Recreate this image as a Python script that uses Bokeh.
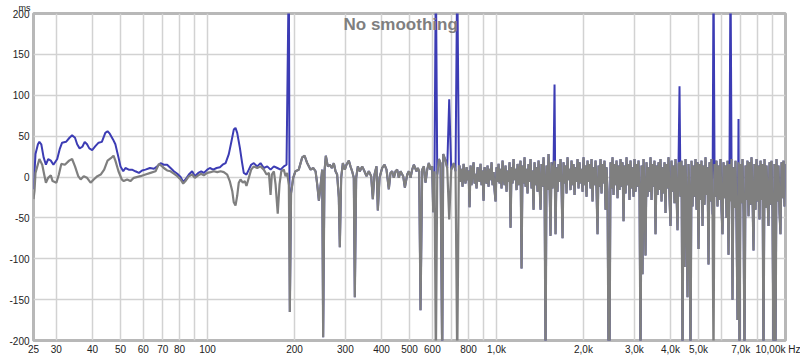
import numpy as np
from bokeh.plotting import figure
from bokeh.models import Range1d, FixedTicker, Label, Title
from bokeh.embed import file_html
from bokeh.resources import INLINE

# ---------------- data ----------------
x_ticks = [25, 30, 40, 50, 60, 70, 80, 90, 100, 200, 300, 400, 500, 600, 700, 800, 900,
           1000, 2000, 3000, 4000, 5000, 6000, 7000, 8000, 9000, 10000]
x_tick_labels = ["25", "30", "40", "50", "60", "70", "80", "", "100", "200", "300", "400", "500",
                 "600", "", "800", "", "1,0k", "2,0k", "3,0k", "4,0k", "5,0k", "", "7,0k", "", "", ""]
last_label = "10,00k Hz"
last_label_anchor = 9535  # label of the last tick is pulled left so it fits the window
y_ticks = [-200, -150, -100, -50, 0, 50, 100, 150, 200]

# blue trace, low-frequency part (Hz, ms)
blue_lf_freq = [25.0, 25.4, 25.9, 26.2, 26.6, 27.1, 27.6, 28.1, 28.7, 29.3, 30.2, 30.8, 31.4, 32.4,
                33.3, 34.0, 34.8, 35.4, 36.1, 36.9, 37.6, 38.3, 39.0, 39.9, 41.0, 42.0, 43.1, 44.3,
                45.1, 45.9, 47.1, 48.0, 49.2, 50.0, 51.1, 52.0, 53.4, 54.8, 56.3, 57.9, 59.4, 61.0,
                63.2, 65.3, 67.0, 68.8, 70.6, 72.5, 74.5, 76.5, 78.6, 80.7, 82.4, 83.9, 86.2, 88.5,
                90.4, 92.9, 95.1, 97.1, 99.8, 101.9, 104.7, 107.5, 110.4, 112.8, 115.5, 118.5, 121.1,
                123.3, 125.0, 126.7, 129.4, 131.8, 133.5, 136.4, 139.0, 141.6, 144.6, 148.6, 152.6,
                156.6, 161.0, 165.3, 169.7, 174.4, 179.0, 183.7, 187.7]
blue_lf_ms = [-15, 28, 40, 43, 40, 24, 15, 22, 20, 15, 22, 34, 42, 43,
              48, 51, 48, 40, 35, 37, 43, 40, 35, 33, 38, 42, 43, 54,
              56, 53, 46, 40, 24, 13, 7, 11, 9, 9, 7, 5, 8, 9,
              11, 10, 13, 17, 15, 15, 11, 7, 4, 0, -6, -3, 3, 7,
              1, 5, 7, 5, 9, 11, 9, 11, 12, 15, 17, 28, 44,
              58, 60, 54, 36, 17, 5, 3, 9, 15, 17, 13, 17,
              11, 13, 9, 13, 11, 9, 13, 15]

# blue spikes above the gray trace (Hz, ms)
blue_spike_freq = [191.5, 615, 688, 733, 1588, 4298, 5635, 6452, 6891]
blue_spike_ms = [260, 260, 95, 260, 113, 111, 260, 260, 71]

# gray trace, hand-read part (Hz, ms)
gray_lf_freq = [25.0, 25.2, 25.4, 26.2, 26.8, 27.3, 27.6, 28.1, 28.7, 29.1, 30.0, 30.6, 31.2, 32.1,
                33.2, 34.0, 34.8, 35.7, 36.4, 37.3, 38.3, 39.4, 40.4, 41.6, 42.7, 43.9, 45.1, 46.3,
                47.3, 48.0, 49.2, 50.5, 51.3, 52.7, 54.1, 55.6, 58.6, 61.0, 63.5, 66.1, 67.9, 69.7,
                70.6, 72.5, 74.5, 76.5, 78.6, 80.7, 82.4, 83.9, 86.2, 88.5, 90.4, 92.9, 95.1, 97.1,
                99.8, 102.5, 105.2, 108.1, 111.0, 113.9, 117.0, 119.4, 121.8, 123.3, 125.0, 126.7,
                128.3, 130.1, 132.5, 134.6, 136.4, 139.0, 141.6, 144.6, 148.6, 152.6, 156.6, 160.1,
                163.1, 165.3, 167.0, 169.7, 172.0, 175.0, 177.5, 180.0, 183.7, 186.2, 188.7, 191.2,
                192.7, 194.6, 197.9, 201.5, 206.9, 212.7, 216.7, 221.3, 227.3, 232.2, 236.6, 239.7,
                242.9, 246.1, 249.4, 251.3, 254.0, 256.7, 260.8, 265.0, 269.3, 273.6, 277.3, 280.9,
                284.7, 287.0, 290.1, 294.0, 298.7, 302.6, 308.3, 312.4, 316.6, 320.8, 323.4, 326.9,
                331.3, 336.6, 342.9, 349.3, 354.9, 361.6, 368.4, 373.3, 378.3, 384.4, 388.5, 393.7,
                402.1, 409.7, 416.3, 424.1, 429.8, 435.5, 441.4, 447.3, 453.3, 459.3, 465.5, 475.5,
                481.9, 490.9, 497.4, 504.1, 510.8, 517.6, 528.7, 534.4, 540.1, 545.9, 553.2, 560.6,
                568.1, 575.7, 583.3, 591.2, 599.1, 603.9, 610.3, 616.8, 623.7, 632.1, 640.3, 648.9,
                654.1, 666.4, 675.3, 686.1, 697.1, 712.0, 721.6, 731.3, 740.9]
gray_lf_ms = [-27, -17, 5, 22, 15, 1, -7, -1, 2, -5, -7, 3, 16, 15,
              20, 22, 13, 1, -3, 1, -1, -7, -3, 1, 3, 9, 20, 23,
              26, 20, 7, -3, -5, -3, -5, -1, 1, 3, 5, 7, 16, 13,
              11, 8, 7, 4, 1, -3, -8, -5, 1, 3, -1, 2, 4, 2,
              5, 6, 7, 6, 7, 6, 3, -5, -17, -31, -35, -23,
              -7, -3, -7, -5, -11, -1, 9, 13, 11, 13, 9, 3,
              5, -22, 3, 7, -9, -45, -9, 7, 9, 1, 5, -10,
              -165, -20, -1, 7, 9, 24, 26, 17, 9, 11, 7, -9,
              -29, -11, 9, -196, 7, 26, 13, 15, 11, 17, 7, 3,
              -25, -86, -1, 17, 9, 15, 20, 13, 7, -1, -147, -1,
              13, 7, 13, 7, 1, 7, 1, -27, 3, 13, -41, -1,
              11, 15, 9, -15, 5, 7, -1, 7, 9, -1, 7, 1,
              -13, 3, 7, -1, 9, 15, 7, 11, 7, -163, 9, 13,
              -7, 9, 17, 9, 13, -43, 7, -230, 3, 22, 17, -230,
              28, 20, 11, -52, 9, 17, 7, -230, 13]

# gray trace, dense high-frequency part (745 Hz .. 10 kHz, log-spaced samples), ms
gray_hf_ms = [
    14, -6, 10, -12, 16, 2, -8, 12, -4, 8, -37, 14, -10, 6, 18, -8, 4, -14, 12, 0,
    -6, 16, -10, 8, -29, 12, 2, -8, 14, -12, 10, -4, 18, -10, 6, -16, -30, 12, -6, 16,
    -8, 10, -14, 20, 0, -10, 14, -18, 8, -6, 18, -62, 12, -8, 22, -4, 10, -16, 16, -10,
    6, 20, -112, 14, -8, 24, -12, 10, -20, 16, -6, 22, -14, 8, -40, 18, -10, 12, -18, 20,
    -8, -40, 16, -12, 24, -6, -230, 14, -16, 28, -10, -72, 18, -14, 10, 20, -70, 12, -18, 16,
    -6, 22, -12, -75, 18, -8, 14, -20, 24, -4, 10, -16, 20, -10, 16, -22, 12, -6, 22, -14,
    18, -8, 10, -18, 24, -10, 14, -24, 20, -6, 16, -14, 22, -30, 12, -10, 20, -16, -70, 14,
    -12, 22, -20, 16, -8, 20, -40, 12, -18, -230, -230, 18, -14, 24, -22, 16, -10, 20, -26, 14,
    -16, 22, -12, 18, -54, 14, -20, 24, -10, 16, -28, 20, -14, 12, -24, 22, -18, 16, -12, 20,
    -20, -230, 14, -119, 22, -16, -96, 18, -24, 12, -18, 24, -28, 16, -12, 20, -70, 14, -22, 18,
    -16, 22, -30, 12, -20, 18, -44, 16, -14, 24, -26, -60, 20, -18, 14, -32, 22, -20, -65, 16,
    18, -24, 20, -230, 14, -110, 22, -30, -147, 16, -22, -230, 20, -36, 14, -24, 22, -40, 18, -88,
    16, -28, 20, -60, 14, -34, 24, -22, 12, -107, 18, -30, 22, -46, -230, 16, -24, 20, -36, 14,
    -28, 22, -40, -70, 18, -26, 14, -50, 20, -95, 16, -30, 22, -150, 12, -38, 20, -56, -175, 18,
    -230, 16, -32, 22, -44, -230, 14, -28, 20, -48, 18, -34, 24, -26, -90, 16, -40, 22, -30, 14,
    -52, 20, -28, 16, -230, 22, -38, 14, -24, -60, 18, -34, 20, -42, -230, 16, -230, 22, -30, 14,
    -44, -70, 18, -26, 20, -36, 16,
]
gray_hf_freq = np.geomspace(745.0, 10000.0, len(gray_hf_ms))

# ---------------- assemble series ----------------
gray_f = np.concatenate([np.array(gray_lf_freq), gray_hf_freq])
gray_v = np.concatenate([np.array(gray_lf_ms, dtype=float), np.array(gray_hf_ms, dtype=float)])

mask = gray_f > 190.0
tail_f = gray_f[mask]
tail_v = gray_v[mask].copy()
for sf, sv in zip(blue_spike_freq, blue_spike_ms):
    i = int(np.argmin(np.abs(np.log(tail_f) - np.log(sf))))
    tail_v[i] = sv
blue_f = np.concatenate([np.array(blue_lf_freq), tail_f])
blue_v = np.concatenate([np.array(blue_lf_ms, dtype=float), tail_v])

# ---------------- figure ----------------
FONT = "Liberation Sans"
p = figure(width=800, height=357, x_axis_type="log",
           x_range=Range1d(25, 10000), y_range=Range1d(-200, 200),
           output_backend="svg", toolbar_location=None,
           min_border_left=33, min_border_right=15, min_border_top=12, min_border_bottom=17)
p.background_fill_color = "white"
p.border_fill_color = "white"
p.outline_line_color = "#b8b8b8"
p.outline_line_width = 3

label_ticks = [t for t in x_ticks if t != 10000] + [last_label_anchor]
label_map = {t: l for t, l in zip(x_ticks, x_tick_labels) if t != 10000}
label_map[last_label_anchor] = last_label
p.xaxis.ticker = FixedTicker(ticks=label_ticks)
p.xaxis.major_label_overrides = label_map
p.xgrid.ticker = FixedTicker(ticks=x_ticks)
p.yaxis.ticker = FixedTicker(ticks=y_ticks)
p.yaxis.major_label_overrides = {t: str(t) for t in y_ticks}
for ax in (p.xaxis[0], p.yaxis[0]):
    ax.axis_line_color = None
    ax.major_tick_line_color = None
    ax.minor_tick_line_color = None
    ax.major_tick_out = 0
    ax.major_tick_in = 0
    ax.minor_tick_out = 0
    ax.minor_tick_in = 0
    ax.major_label_text_font = FONT
    ax.major_label_text_font_size = "10px"
    ax.major_label_text_color = "#222222"
p.xaxis.major_label_standoff = 3
p.yaxis.major_label_standoff = 4
p.xgrid.minor_grid_line_color = None
p.xgrid.grid_line_color = "#d2d2d2"
p.ygrid.grid_line_color = "#d2d2d2"
p.xgrid.grid_line_width = 1.5
p.ygrid.grid_line_width = 1.5

p.line(blue_f, blue_v, line_color="#3c3cb4", line_width=2)
p.line(gray_f, gray_v, line_color="#7f7f7f", line_width=2.2)

p.add_layout(Label(x=466, y=200, text="No smoothing", text_align="center", text_baseline="top",
                   y_offset=-1, text_font=FONT, text_font_size="17px", text_font_style="bold",
                   text_color="#7f7f7f"))
p.add_layout(Title(text="ms", align="left", offset=-15, standoff=1, text_font=FONT,
                   text_font_size="9px", text_font_style="normal", text_color="#222222"), "above")

open("out.html", "w").write(file_html(p, INLINE))
